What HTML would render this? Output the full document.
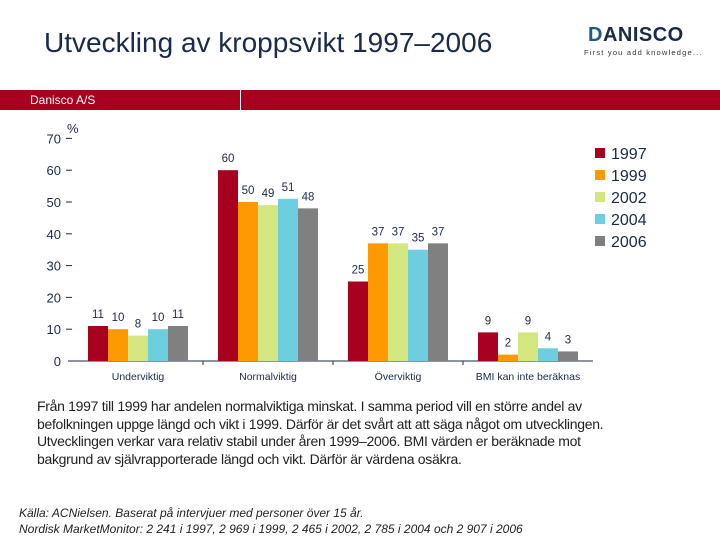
<!DOCTYPE html>
<html><head><meta charset="utf-8"><style>
body{margin:0;width:720px;height:540px;overflow:hidden;background:#fff;font-family:"Liberation Sans",sans-serif;position:relative}
.abs{position:absolute}
</style></head><body>
<div class="abs" style="left:44px;top:27px;font-size:28px;color:#1a2a4a;white-space:nowrap;letter-spacing:0px">Utveckling av kroppsvikt 1997–2006</div>
<div class="abs" style="left:588px;top:24px;width:120px">
  <div style="font-size:20px;font-weight:bold;color:#1a2a4a;letter-spacing:0.5px"><span style="color:#1e5a8a">D</span>ANISCO</div>
  <div style="font-size:7.5px;color:#333;letter-spacing:1.2px;white-space:nowrap;margin-top:1px;margin-left:-4px">First you add knowledge...</div>
</div>
<div class="abs" style="left:0;top:90px;width:720px;height:20px;background:#a8001f">
  <span style="position:absolute;left:30px;top:3px;color:#fff;font-size:12px">Danisco A/S</span>
  <div style="position:absolute;left:240px;top:0;width:1px;height:20px;background:#fff"></div>
</div>
<svg class="abs" style="left:0;top:0" width="720" height="540" id="chart"></svg>
<div class="abs" style="left:37px;top:398px;font-size:14px;line-height:17.6px;color:#222;letter-spacing:-0.3px;white-space:nowrap">Från 1997 till 1999 har andelen normalviktiga minskat. I samma period vill en större andel av<br>befolkningen uppge längd och vikt i 1999. Därför är det svårt att att säga något om utvecklingen.<br>Utvecklingen verkar vara relativ stabil under åren 1999–2006. BMI värden er beräknade mot<br>bakgrund av självrapporterade längd och vikt. Därför är värdena osäkra.</div>
<div class="abs" style="left:19px;top:505px;font-size:12px;line-height:16px;font-style:italic;color:#222;letter-spacing:0px;white-space:nowrap">Källa: ACNielsen. Baserat på intervjuer med personer över 15 år.<br>Nordisk MarketMonitor: 2 241 i 1997, 2 969 i 1999, 2 465 i 2002, 2 785 i 2004 och 2 907 i 2006</div>
<script>
const categories=["Underviktig","Normalviktig","Överviktig","BMI kan inte beräknas"];
const seriesNames=["1997","1999","2002","2004","2006"];
const v1997=[11,60,25,9];
const v1999=[10,50,37,2];
const v2002=[8,49,37,9];
const v2004=[10,51,35,4];
const v2006=[11,48,37,3];
const yTicks=[0,10,20,30,40,50,60,70];
const colors=["#a8001f","#ff9900","#d4e680","#6ccedf","#808080"];
const series=[v1997,v1999,v2002,v2004,v2006];
const svg=document.getElementById('chart');
const NS="http://www.w3.org/2000/svg";
const y0=361,pxPerUnit=3.18,gx0=88,gStep=130,bw=20;
const Y=v=>y0-v*pxPerUnit;
function mk(t,a,txt){const e=document.createElementNS(NS,t);for(const k in a)e.setAttribute(k,a[k]);if(txt!==undefined)e.textContent=txt;svg.appendChild(e);return e;}
yTicks.forEach(t=>{
  const l=mk('text',{x:61,y:Y(t)+5,'text-anchor':'end','font-size':13,fill:'#1a2a4a'},String(t));
  
  
  if(t>0){const m=mk('line',{x1:66,x2:72,y1:Y(t),y2:Y(t),stroke:'#1a2a4a','stroke-width':1});
  
  }
});
const pu=mk('text',{x:67,y:133,'font-size':13,fill:'#1a2a4a'},'%');


const ax=mk('line',{x1:68,x2:593,y1:y0,y2:y0,stroke:'#1a2a4a','stroke-width':1});


categories.forEach((c,i)=>{
  const cx=gx0+i*gStep+50;
  const t=mk('text',{x:cx,y:380,'text-anchor':'middle','font-size':10.5,fill:'#1a2a4a'},c);
  
  
  if(i>0){const tk=mk('line',{x1:cx-65,x2:cx-65,y1:y0,y2:y0+4,stroke:'#1a2a4a'});
  
  }
  series.forEach((s,j)=>{
    const x=gx0+i*gStep+j*bw,v=s[i];
    const r=mk('rect',{x:x,y:Y(v),width:bw,height:v*pxPerUnit,fill:colors[j]});
    
    
    const lb=mk('text',{x:x+bw/2,y:Y(v)-8,'text-anchor':'middle','font-size':11.5,fill:'#1a2a4a'},String(v));
    
    
  });
});
seriesNames.forEach((n,j)=>{
  const cy=153+j*22;
  const sq=mk('rect',{x:595,y:cy-5,width:10,height:10,fill:colors[j]});
  
  
  const t=mk('text',{x:611,y:cy+6,'font-size':16,fill:'#1a2a4a'},n);
  
  
});
</script>
</body></html>
